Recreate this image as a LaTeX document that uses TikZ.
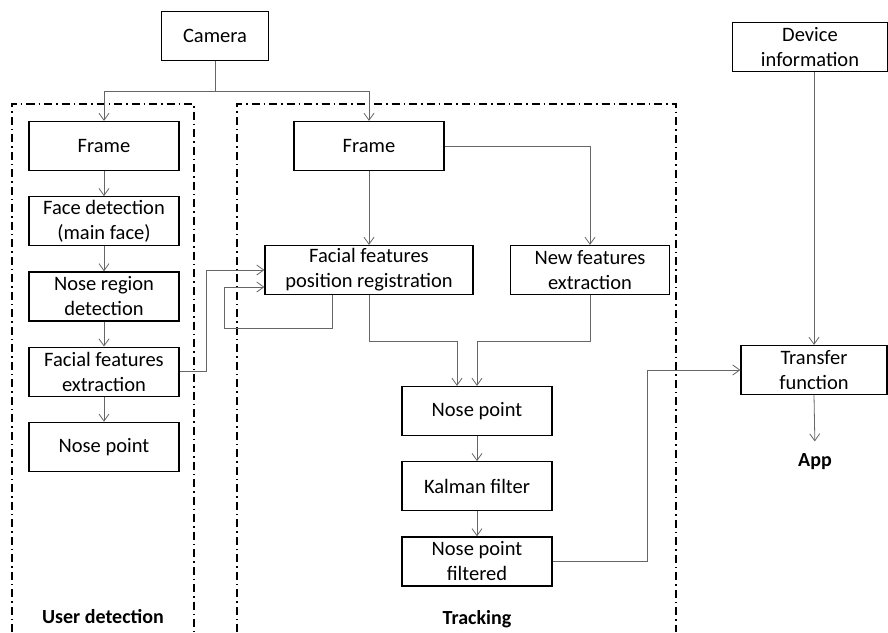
\documentclass[tikz,border=0pt]{standalone}
\usepackage{fontspec}
\setmainfont{Carlito}
\usetikzlibrary{arrows.meta,positioning,calc}

\begin{document}
\begin{tikzpicture}[
  x=1pt, y=-1pt,
  node distance=25pt,
  box/.style={draw, line width=1.2pt, minimum width=150pt, minimum height=49pt, align=center, inner sep=1pt, font=\fontsize{20.5}{25}\selectfont},
  arr/.style={draw=black!60, line width=0.8pt, -{Straight Barb[length=7pt,width=10pt]}},
  zone/.style={line width=1.2pt, dash pattern=on 8pt off 4pt on 1.5pt off 4pt},
  lbl/.style={font=\fontsize{20}{24}\selectfont\bfseries}
]
\useasboundingbox (0,0) rectangle (888,632);

\draw[zone] (12,632) |- (194,104) -- (194,632);
\draw[zone] (237,632) |- (676,104) -- (676,632);

\node[box, minimum width=107pt] (cam) at (215,36) {Camera};
\node[box, minimum width=155pt] (dev) at (810,47) {Device\\information};

\node[box] (frameL) at (104,146) {Frame};
\node[box, below=of frameL] (face) {Face detection\\(main face)};
\node[box, below=of face] (noseReg) {Nose region\\detection};
\node[box, below=of noseReg] (ffe) {Facial features\\extraction};
\node[box, below=of ffe] (npL) {Nose point};

\node[box] (frameR) at (369,146) {Frame};
\node[box, minimum width=208pt] (reg) at (369,270) {Facial features\\position registration};
\node[box, minimum width=159pt] (newf) at (590,270) {New features\\extraction};
\node[box] (np) at (477,411) {Nose point};
\node[box, below=of np] (kal) {Kalman filter};
\node[box, below=of kal] (npf) {Nose point\\filtered};

\node[box, minimum width=146pt] (tf) at (814,370) {Transfer\\function};
\node[lbl] (app) at (815,462) {App};

\node[lbl] (userLbl) at (103,617) {User detection};
\node[lbl] (trackLbl) at (477,619) {Tracking};

\draw[arr] (cam.south) -- ++(0,30) -| (frameL.north);
\draw[arr] (cam.south) -- ++(0,30) -| (frameR.north);
\foreach \a/\b in {frameL/face, face/noseReg, noseReg/ffe, ffe/npL, frameR/reg, np/kal, kal/npf}
  \draw[arr] (\a) -- (\b);
\draw[arr] (frameR.east) -| (newf.north);
\draw[arr] (ffe.east) -- ++(27,0) |- (reg.west);
\coordinate (loop) at (224,328);
\draw[arr] ([xshift=-37pt]reg.south) |- (loop) |- ([yshift=-17pt]reg.west);
\draw[arr] (reg.south) -- ++(0,46) -| ([xshift=-20pt]np.north);
\draw[arr] (newf.south) -- ++(0,46) -| (np.north);
\draw[arr] (npf.east) -- ++(95,0) |- (tf.west);
\draw[arr] (tf.north |- dev.south) -- (tf.north);
\draw[arr, shorten >=9pt] (tf.south) -- (app.north);
\end{tikzpicture}
\end{document}
